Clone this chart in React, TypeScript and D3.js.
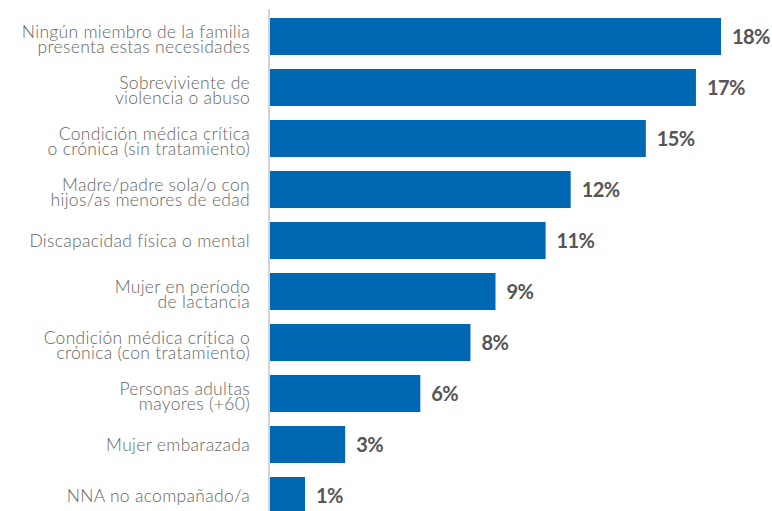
import * as d3 from 'd3';

// Categories (top to bottom); "\n" marks the line break used in the original
const categories: string[] = [
  'Ningún miembro de la familia\npresenta estas necesidades',
  'Sobreviviente de\nviolencia o abuso',
  'Condición médica crítica\no crónica (sin tratamiento)',
  'Madre/padre sola/o con\nhijos/as menores de edad',
  'Discapacidad física o mental',
  'Mujer en período\nde lactancia',
  'Condición médica crítica o\ncrónica (con tratamiento)',
  'Personas adultas\nmayores (+60)',
  'Mujer embarazada',
  'NNA no acompañado/a',
];

// Percent values
const values: number[] = [18, 17, 15, 12, 11, 9, 8, 6, 3, 1.4];

// Printed labels next to the bars
const valueLabels: string[] = ['18%', '17%', '15%', '12%', '11%', '9%', '8%', '6%', '3%', '1%'];

const W = 772;
const H = 511;
const BAR_COLOR = '#0068b3';
const FONT = 'Lato, "Open Sans", sans-serif';

export default function App() {
  const x = d3.scaleLinear().domain([0, 18]).range([270, 721]);
  const y = d3
    .scaleBand<string>()
    .domain(categories)
    .range([18, 514])
    .paddingInner(14 / 51)
    .paddingOuter(0);

  return (
    <svg
      width={W}
      height={H}
      style={{ position: 'fixed', left: 0, top: 0, background: '#fff' }}
    >
      {/* vertical axis line */}
      <line x1={269} x2={269} y1={9} y2={H} stroke="#d4d4d4" strokeWidth={2} />

      {categories.map((c, i) => {
        const y0 = y(c) ?? 0;
        const cy = y0 + y.bandwidth() / 2;
        const lines = c.split('\n');
        const w = x(values[i]) - x(0);
        return (
          <g key={c}>
            <rect x={x(0)} y={y0} width={w} height={y.bandwidth()} fill={BAR_COLOR} />
            <text
              x={250}
              textAnchor="end"
              fontFamily={FONT}
              fontWeight={300}
              fontSize={17.5}
              letterSpacing={0.3}
              fill="#666"
            >
              {lines.length === 1 ? (
                <tspan x={250} y={cy + 6}>
                  {lines[0]}
                </tspan>
              ) : (
                lines.map((l, j) => (
                  <tspan key={j} x={250} y={cy + 1.5 + j * 15}>
                    {l}
                  </tspan>
                ))
              )}
            </text>
            <text
              x={x(values[i]) + 11}
              y={cy + 7}
              fontFamily={FONT}
              fontWeight={700}
              fontSize={20}
              letterSpacing={-0.6}
              fill="#555"
            >
              {valueLabels[i]}
            </text>
          </g>
        );
      })}
    </svg>
  );
}
